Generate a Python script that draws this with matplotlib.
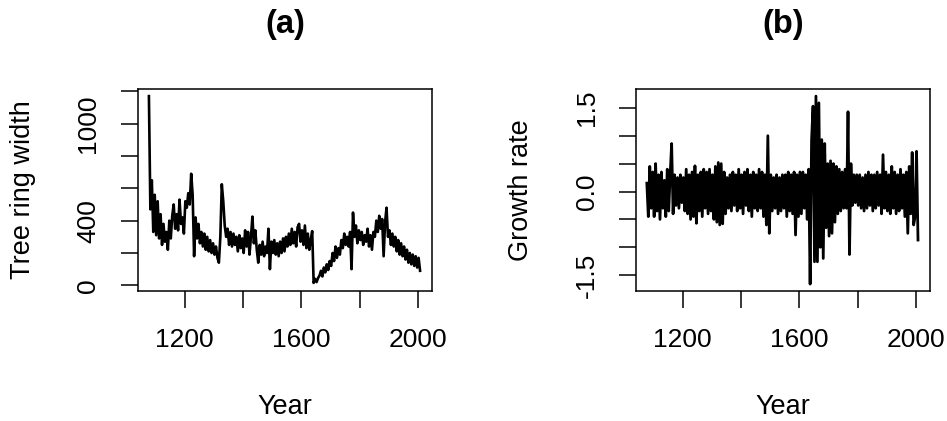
import numpy as np
import matplotlib
matplotlib.use('Agg')
import matplotlib.pyplot as plt

plt.rcParams['font.family'] = ['Liberation Sans', 'DejaVu Sans']

# years sampled every 5 years
years = np.arange(1077, 2011, 5)

# tree ring width
ring_width = [
    1170, 470, 650, 330, 560, 310, 520, 290, 440, 250,
    380, 270, 330, 220, 400, 290, 430, 500, 350, 440,
    340, 530, 380, 420, 320, 520, 480, 570, 500, 690,
    560, 180, 420, 290, 380, 260, 330, 240, 320, 220,
    300, 210, 280, 200, 260, 190, 240, 170, 140, 300,
    625, 520, 370, 300, 350, 250, 330, 240, 320, 250,
    300, 210, 310, 230, 290, 200, 340, 240, 330, 190,
    300, 425, 260, 340, 220, 140, 250, 190, 270, 180,
    240, 200, 350, 100, 270, 200, 280, 190, 260, 180,
    270, 200, 290, 210, 300, 240, 320, 250, 350, 260,
    330, 240, 360, 380, 270, 340, 250, 370, 230, 320,
    220, 280, 335, 15, 40, 20, 45, 60, 90, 55,
    110, 80, 130, 95, 150, 120, 200, 150, 240, 170,
    230, 190, 280, 230, 320, 250, 300, 240, 330, 100,
    450, 300, 370, 260, 340, 280, 330, 250, 310, 270,
    350, 240, 310, 220, 330, 300, 400, 330, 430, 350,
    410, 180, 390, 480, 300, 340, 250, 320, 240, 300,
    210, 280, 190, 260, 180, 240, 160, 220, 140, 200,
    130, 190, 120, 180, 110, 170, 90,
]

# growth rate
growth_rate = [
    0.15, -0.45, 0.45, -0.3, 0.35, -0.45, 0.5, -0.35, 0.3, -0.5,
    0.35, -0.3, 0.2, -0.45, 0.4, -0.35, 0.3, 0.86, -0.4, 0.3,
    -0.25, 0.25, -0.3, 0.3, -0.2, 0.25, -0.35, 0.4, -0.4, 0.3,
    -0.5, 0.35, -0.45, 0.46, -0.57, 0.3, -0.35, 0.35, -0.45, 0.4,
    -0.3, 0.35, -0.4, 0.4, -0.35, 0.3, -0.5, 0.45, -0.55, 0.52,
    -0.6, 0.5, -0.58, 0.35, -0.4, 0.25, -0.3, 0.3, -0.35, 0.35,
    -0.25, 0.3, -0.35, 0.4, -0.3, 0.3, -0.4, 0.35, -0.25, 0.4,
    -0.35, 0.3, -0.45, 0.35, -0.3, 0.3, -0.35, 0.4, -0.3, 0.35,
    -0.45, 0.3, -0.6, 1.0, -0.75, 0.3, -0.35, 0.25, -0.3, 0.3,
    -0.4, 0.25, -0.35, 0.3, -0.3, 0.3, -0.45, 0.35, -0.35, 0.3,
    -0.4, 0.35, -0.78, 0.3, -0.45, 0.35, -0.4, 0.35, -0.3, 0.3,
    -0.5, 0.4, -1.66, 0.93, 1.53, -1.26, 1.71, -1.26, 1.59, -1.0,
    0.93, -1.2, 0.86, -0.65, 0.5, -0.8, 0.55, -0.75, 0.5, -0.55,
    0.45, -0.4, 0.4, -0.35, 0.35, -0.3, 0.4, -0.3, 1.43, -1.13,
    0.5, -0.25, 0.3, -0.2, 0.3, -0.25, 0.3, -0.3, 0.25, -0.35,
    0.3, -0.3, 0.35, -0.25, 0.3, -0.35, 0.3, -0.3, 0.35, -0.25,
    0.3, -0.4, 0.66, -0.3, 0.35, -0.35, 0.3, -0.4, 0.45, -0.3,
    0.35, -0.4, 0.3, -0.35, 0.4, -0.3, 0.3, -0.45, 0.35, -0.75,
    0.45, -0.4, 0.7, -0.6, -0.45, 0.72, -0.87,
]

x_ticks = [1200, 1400, 1600, 1800, 2000]
x_labels = ['1200', '', '1600', '', '2000']
a_ticks = [0, 200, 400, 600, 800, 1000, 1200]
a_labels = ['0', '', '400', '', '', '1000', '']
b_ticks = [-1.5, -1.0, -0.5, 0.0, 0.5, 1.0, 1.5]
b_labels = ['-1.5', '', '', '0.0', '', '', '1.5']

fig = plt.figure(figsize=(9.47, 4.21), dpi=100)
ax_a = fig.add_axes([0.1457, 0.3088, 0.3105, 0.4798])
ax_b = fig.add_axes([0.6716, 0.3088, 0.3104, 0.4798])


def style_axis(ax, title, ylabel, yticks, ylabels):
    for s in ax.spines.values():
        s.set_linewidth(1.1)
    ax.set_xticks(x_ticks)
    ax.set_xticklabels(x_labels)
    ax.set_yticks(yticks)
    ax.set_yticklabels(ylabels, rotation=90, va='center')
    ax.tick_params(direction='out', length=12, width=1.1, labelsize=19, pad=15)
    ax.set_xlabel('Year', fontsize=19.5)
    ax.xaxis.set_label_coords(0.5, -0.574)
    ax.xaxis.label.set_va('center')
    ax.set_ylabel(ylabel, fontsize=19.5)
    ax.yaxis.set_label_coords(-0.39, 0.5)
    ax.yaxis.label.set_va('center')
    ax.text(0.5, 1.317, title, transform=ax.transAxes, ha='center', va='center',
            fontsize=23.5, fontweight='bold')


ax_a.plot(years, ring_width, color='black', lw=1.9)
ax_a.set_xlim(1039.5, 2048)
ax_a.set_ylim(-35, 1214)
style_axis(ax_a, '(a)', 'Tree ring width', a_ticks, a_labels)

ax_b.plot(years, growth_rate, color='black', lw=2.0)
ax_b.set_xlim(1039.8, 2048)
ax_b.set_ylim(-1.784, 1.838)
style_axis(ax_b, '(b)', 'Growth rate', b_ticks, b_labels)

fig.savefig('out.png', dpi=100)
